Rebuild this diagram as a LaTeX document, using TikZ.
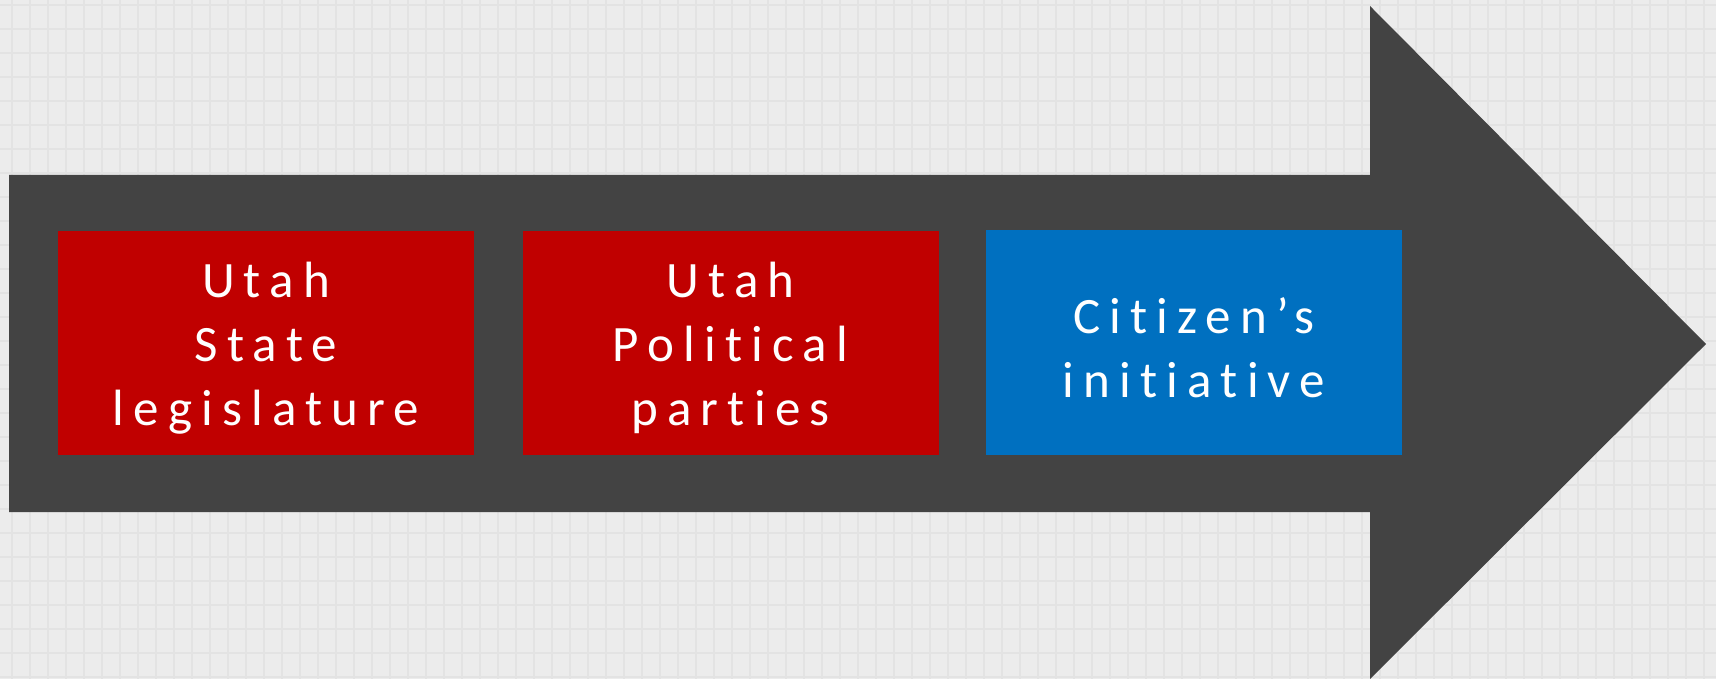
\documentclass[tikz,border=0pt]{standalone}
\usepackage{fontspec}
\newfontfamily\boxfont[LetterSpace=18, Ligatures={NoCommon,NoRequired,NoContextual}]{Carlito}
\definecolor{bgcol}{HTML}{ECECEC}
\definecolor{gridcol}{HTML}{E3E3E3}
\definecolor{arrowcol}{HTML}{434343}
\definecolor{utahred}{HTML}{C00000}
\definecolor{citizenblue}{HTML}{0070C0}
\tikzset{
  stagebox/.style={rectangle, inner sep=0pt, minimum width=416pt, minimum height=224pt},
  stagetext/.style={inner sep=0pt, text=white, align=center,
    font=\boxfont\fontsize{51}{64}\selectfont}
}

\begin{document}
\begin{tikzpicture}[x=1pt, y=-1pt]

   \useasboundingbox (0,0) rectangle (1716,679);
   % background and faint grid
   \fill[bgcol] (0,0) rectangle (1716,679);
   \foreach \gx in {12,30,...,1716}
      \draw[gridcol, line width=1.5pt] (\gx,0) -- (\gx,679);
   \foreach \gy in {5,29,...,679}
      \draw[gridcol, line width=1.5pt] (0,\gy) -- (1716,\gy);

   % big arrow
   \fill[arrowcol] (9,175) -- (1370,175) -- (1370,6) -- (1706,344)
      -- (1370,679) -- (1370,512) -- (9,512) -- cycle;

   \begin{scope}[every node/.style={stagebox}]
    \node[fill=utahred] (legislature) at (266,343) {};
    \node[fill=utahred] (parties) at (730.5,343) {};
    \node[fill=citizenblue] (initiative) at (1194,342.5) {};
   \end{scope}
   \begin{scope}[every node/.style={stagetext}]
    \node (legislaturetext) at ([yshift=-5pt]legislature.center) {Utah\\State\\legislature};
    \node (partiestext) at ([yshift=-5pt]parties.center) {Utah\\Political\\parties};
    \node (initiativetext) at ([yshift=-5pt]initiative.center) {Citizen’s\\initiative};
   \end{scope}
\end{tikzpicture}
\end{document}
